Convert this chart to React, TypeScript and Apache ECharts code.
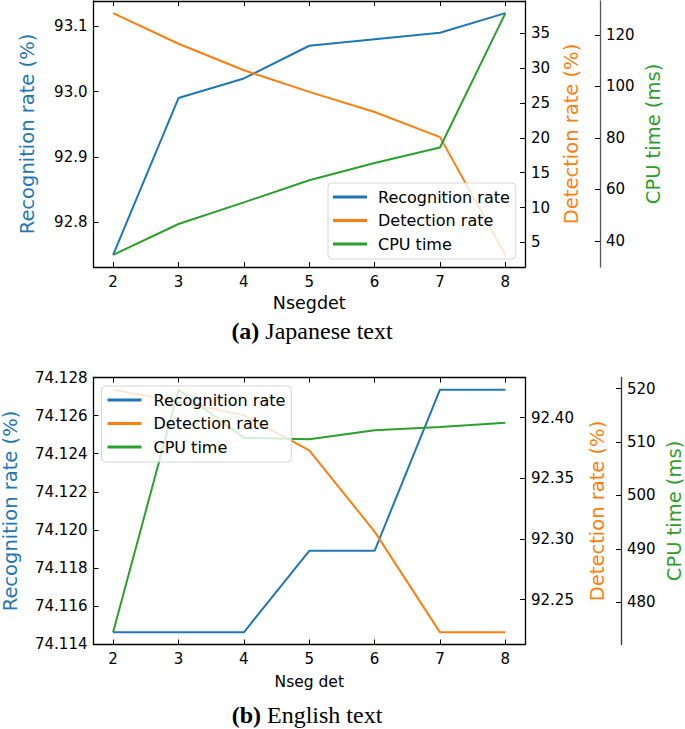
import React, { useEffect, useRef } from "react";
import * as echarts from "echarts";

// ---- data ----
const nseg = [2, 3, 4, 5, 6, 7, 8];

// (a) Japanese text
const jpRecognition = [92.75, 92.99, 93.02, 93.07, 93.08, 93.09, 93.12];
const jpDetection = [37.9, 33.5, 29.7, 26.6, 23.7, 20.1, 3.2];
const jpCpu = [34.6, 46.6, 55.0, 63.6, 70.3, 76.3, 128.5];

// (b) English text
const enRecognition = [74.11461, 74.11461, 74.11461, 74.1189, 74.1189, 74.12737, 74.12737];
const enDetection = [92.423, 92.413, 92.402, 92.373, 92.306, 92.223, 92.223];
const enCpu = [474.4, 519.8, 510.8, 510.5, 512.2, 512.8, 513.6];

// tick labels
const xTicks = [2, 3, 4, 5, 6, 7, 8];
const jpRecTicks = [92.8, 92.9, 93.0, 93.1];
const jpDetTicks = [5, 10, 15, 20, 25, 30, 35];
const jpCpuTicks = [40, 60, 80, 100, 120];
const enRecTicks = [74.114, 74.116, 74.118, 74.12, 74.122, 74.124, 74.126, 74.128];
const enDetTicks = [92.25, 92.3, 92.35, 92.4];
const enCpuTicks = [480, 490, 500, 510, 520];

const seriesNames = ["Recognition rate", "Detection rate", "CPU time"];
const colors = ["#1f77b4", "#ff7f0e", "#2ca02c"];

const SANS = "DejaVu Sans";
const SERIF = "Liberation Serif";

function lim(arr: number[]) {
  const mn = Math.min(...arr);
  const mx = Math.max(...arr);
  const p = (mx - mn) * 0.05;
  return { min: mn - p, max: mx + p };
}

function xAxes(gridIndex: number, name: string, nameSize: number, nameGap: number) {
  const { min, max } = lim(nseg);
  return [
    {
      type: "value",
      gridIndex,
      position: "bottom",
      min,
      max,
      name,
      nameLocation: "middle",
      nameGap,
      nameTextStyle: { fontFamily: SANS, fontSize: nameSize, color: "#000" },
      axisLine: { show: true, onZero: false, lineStyle: { color: "#000", width: 1.3 } },
      axisTick: { show: true, inside: true, length: 5, customValues: xTicks, lineStyle: { color: "#000" } },
      axisLabel: {
        show: true,
        customValues: xTicks,
        margin: 7,
        fontFamily: SANS,
        fontSize: 15,
        color: "#000",
        formatter: (v: number) => String(v),
      },
      splitLine: { show: false },
    },
    {
      type: "value",
      gridIndex,
      position: "top",
      min,
      max,
      axisLine: { show: true, onZero: false, lineStyle: { color: "#000", width: 1.3 } },
      axisTick: { show: true, inside: true, length: 5, customValues: xTicks, lineStyle: { color: "#000" } },
      axisLabel: { show: false },
      splitLine: { show: false },
    },
  ];
}

function yAxis(
  gridIndex: number,
  data: number[],
  ticks: number[],
  digits: number,
  position: "left" | "right",
  offset: number,
  name: string,
  nameColor: string,
  nameGap: number,
  lineColor: string
) {
  const { min, max } = lim(data);
  return {
    type: "value",
    gridIndex,
    position,
    offset,
    min,
    max,
    name,
    nameLocation: "middle",
    nameRotate: 90,
    nameGap,
    nameMoveOverlap: false,
    nameTextStyle: { fontFamily: SANS, fontSize: 19.5, color: nameColor },
    axisLine: { show: true, onZero: false, lineStyle: { color: lineColor, width: 1.3 } },
    axisTick: { show: true, inside: true, length: 5, customValues: ticks, lineStyle: { color: "#000" } },
    axisLabel: {
      show: true,
      customValues: ticks,
      margin: 6,
      fontFamily: SANS,
      fontSize: 15,
      color: "#000",
      formatter: (v: number) => v.toFixed(digits),
    },
    splitLine: { show: false },
  };
}

function lineSeries(name: string, color: string, xAxisIndex: number, yAxisIndex: number, vals: number[], z: number) {
  return {
    type: "line",
    name,
    xAxisIndex,
    yAxisIndex,
    data: nseg.map((x, i) => [x, vals[i]]),
    showSymbol: false,
    symbol: "none",
    lineStyle: { color, width: 2 },
    itemStyle: { color },
    z,
    silent: true,
  };
}

function legend(left: number, top: number, padding: number[], textPad: number) {
  return {
    show: true,
    orient: "vertical",
    left,
    top,
    padding,
    itemGap: 7.5,
    itemWidth: 34,
    itemHeight: 3,
    icon: "rect",
    selectedMode: false,
    backgroundColor: "rgba(255,255,255,0.8)",
    borderColor: "rgba(204,204,204,0.8)",
    borderWidth: 1,
    borderRadius: 4,
    data: seriesNames.map((n, i) => ({ name: n, itemStyle: { color: colors[i] } })),
    textStyle: {
      fontFamily: SANS,
      fontSize: 16,
      color: "#000",
      lineHeight: 16,
      padding: [0, 0, 0, textPad],
    },
    z: 10,
  };
}

export default function App() {
  const ref = useRef<HTMLDivElement>(null);

  useEffect(() => {
    if (!ref.current) return;
    const chart = echarts.init(ref.current, undefined, { renderer: "svg" });

    const option: any = {
      animation: false,
      backgroundColor: "#fff",
      grid: [
        { left: 93.5, top: 1, width: 431.5, height: 266, outerBoundsMode: "none", containLabel: false },
        { left: 93.5, top: 377.5, width: 431.5, height: 267, outerBoundsMode: "none", containLabel: false },
      ],
      xAxis: [...xAxes(0, "Nsegdet", 17.5, 27), ...xAxes(1, "Nseg det", 15.5, 29)],
      yAxis: [
        yAxis(0, jpRecognition, jpRecTicks, 1, "left", 0, "Recognition rate (%)", colors[0], 56, "#000"),
        yAxis(0, jpDetection, jpDetTicks, 0, "right", 0, "Detection rate (%)", colors[1], 36, "#000"),
        yAxis(0, jpCpu, jpCpuTicks, 0, "right", 75, "CPU time (ms)", colors[2], 43, "#555"),
        yAxis(1, enRecognition, enRecTicks, 3, "left", 0, "Recognition rate (%)", colors[0], 73, "#000"),
        yAxis(1, enDetection, enDetTicks, 2, "right", 0, "Detection rate (%)", colors[1], 62, "#000"),
        yAxis(1, enCpu, enCpuTicks, 0, "right", 96, "CPU time (ms)", colors[2], 43, "#333"),
      ],
      legend: [legend(328, 183, [6, 6, 7, 5], 6), legend(101.5, 386, [6, 6, 7, 6], 7)],
      series: [
        lineSeries(seriesNames[0], colors[0], 0, 0, jpRecognition, 2),
        lineSeries(seriesNames[1], colors[1], 0, 1, jpDetection, 3),
        lineSeries(seriesNames[2], colors[2], 0, 2, jpCpu, 4),
        lineSeries(seriesNames[0], colors[0], 2, 3, enRecognition, 2),
        lineSeries(seriesNames[1], colors[1], 2, 4, enDetection, 3),
        lineSeries(seriesNames[2], colors[2], 2, 5, enCpu, 4),
      ],
      graphic: [
        {
          type: "text",
          x: 312,
          y: 331,
          style: {
            text: "{b|(a)} Japanese text",
            fontFamily: SERIF,
            fontSize: 24,
            fill: "#000",
            align: "center",
            verticalAlign: "middle",
            rich: { b: { fontFamily: SERIF, fontSize: 24, fontWeight: "bold", fill: "#000" } },
          },
        },
        {
          type: "text",
          x: 307,
          y: 715,
          style: {
            text: "{b|(b)} English text",
            fontFamily: SERIF,
            fontSize: 24,
            fill: "#000",
            align: "center",
            verticalAlign: "middle",
            rich: { b: { fontFamily: SERIF, fontSize: 24, fontWeight: "bold", fill: "#000" } },
          },
        },
      ],
    };

    chart.setOption(option);
    return () => chart.dispose();
  }, []);

  return (
    <div
      ref={ref}
      style={{ position: "absolute", left: 0, top: 0, width: 685, height: 729, background: "#fff" }}
    />
  );
}
